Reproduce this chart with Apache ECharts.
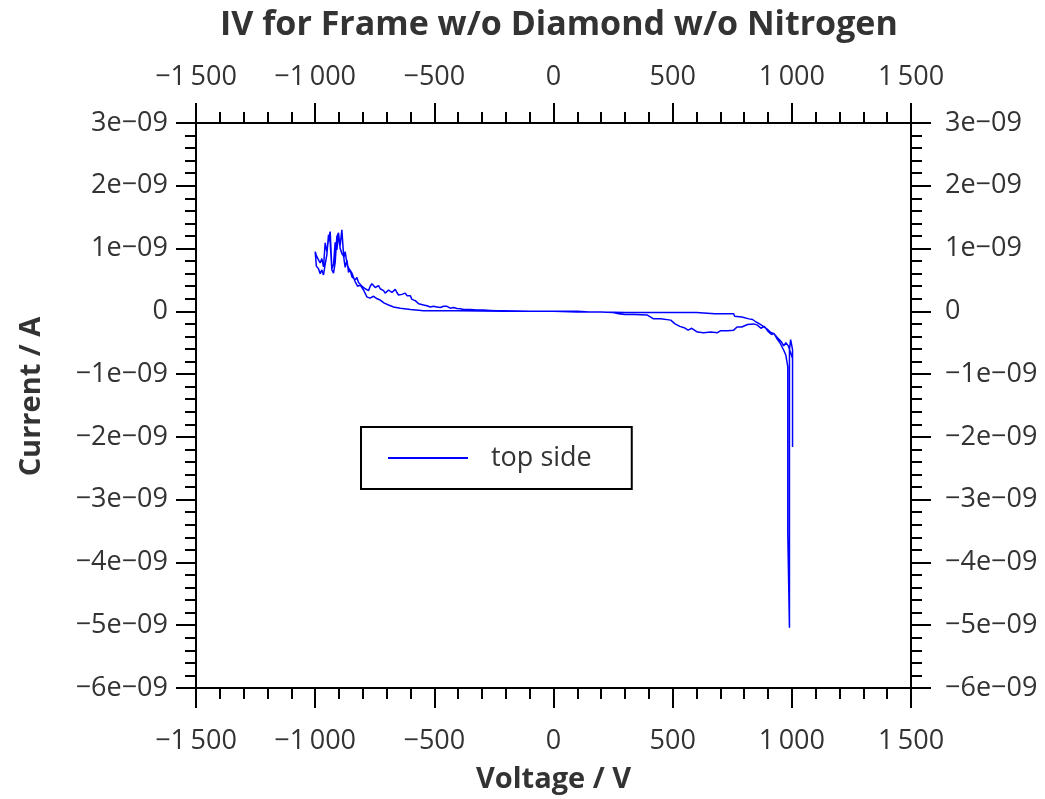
<!DOCTYPE html>
<html>
<head>
<meta charset="utf-8">
<script src="https://cdn.jsdelivr.net/npm/echarts@6/dist/echarts.min.js"></script>
<style>
  html, body { margin: 0; padding: 0; background: #fff; }
  #chart { width: 1045px; height: 799px; }
</style>
</head>
<body>
<div id="chart"></div>
<script>
  // sweep 0 -> +1000 V (dipping branch), current in nA
  const upPosV = [0, 50, 100, 150, 200, 250, 273, 300, 340, 394, 420, 450, 492, 510, 530, 548, 565, 580, 604, 630, 660, 688, 700, 730, 756, 770, 790, 814, 840, 856, 870, 885, 900, 915, 925, 940, 950, 966, 975, 983, 983, 990, 990]
  const upPosI = [0, 0, 0, -0.01, -0.01, -0.02, -0.04, -0.05, -0.05, -0.06, -0.12, -0.12, -0.14, -0.2, -0.24, -0.26, -0.3, -0.27, -0.33, -0.34, -0.33, -0.34, -0.31, -0.31, -0.3, -0.25, -0.25, -0.21, -0.2, -0.22, -0.27, -0.24, -0.32, -0.37, -0.35, -0.45, -0.5, -0.62, -0.7, -0.88, -3.53, -3.53, -5.04]

  // +1000 V -> 0 (return, near zero)
  const downPosV = [990, 995, 1003, 1003, 1003, 985, 975, 966, 955, 940, 926, 910, 895, 880, 865, 850, 835, 820, 814, 790, 760, 756, 700, 676, 672, 600, 500, 400, 300, 200, 100, 0]
  const downPosI = [-0.61, -0.45, -0.61, -2.16, -0.75, -0.55, -0.5, -0.55, -0.48, -0.42, -0.36, -0.33, -0.28, -0.24, -0.2, -0.17, -0.13, -0.12, -0.1, -0.09, -0.08, -0.04, -0.04, -0.04, -0.02, -0.02, -0.02, -0.02, -0.02, -0.01, -0.01, 0]

  // 0 -> -1000 V
  const upNegV = [0, -55, -100, -150, -210, -300, -400, -480, -545, -600, -643, -671, -692, -710, -727, -740, -755, -770, -783, -797, -811, -822, -832, -846, -860, -867, -874, -880, -888, -895, -902, -909, -916, -923, -930, -937, -944, -951, -958, -965, -972, -979, -986, -993, -1000]
  const upNegI = [0, 0, 0, 0, 0, 0.005, 0.01, 0.01, 0.01, 0.03, 0.05, 0.07, 0.1, 0.13, 0.18, 0.2, 0.24, 0.21, 0.23, 0.34, 0.42, 0.4, 0.47, 0.61, 0.69, 0.77, 0.95, 0.85, 1.3, 1.05, 1.2, 0.98, 1.1, 0.75, 0.68, 1.27, 1.15, 0.95, 1.09, 0.71, 0.84, 0.77, 0.82, 0.87, 0.95]

  // -1000 V -> 0 (noisy branch)
  const downNegV = [-1000, -995, -986, -979, -972, -965, -958, -951, -944, -937, -930, -923, -916, -909, -902, -895, -888, -881, -874, -867, -860, -853, -846, -839, -832, -825, -818, -811, -804, -797, -790, -783, -776, -769, -762, -755, -748, -741, -734, -727, -720, -713, -706, -699, -692, -685, -678, -671, -664, -657, -650, -643, -636, -629, -622, -615, -608, -601, -594, -587, -580, -573, -566, -559, -545, -531, -517, -503, -489, -475, -461, -447, -433, -419, -405, -391, -377, -349, -321, -293, -265, -237, -210, -150, -100, -50, 0]
  const downNegI = [0.95, 0.72, 0.68, 0.6, 0.66, 0.58, 0.75, 0.9, 1.22, 1.1, 0.66, 0.61, 0.78, 1.19, 1.25, 1.0, 0.92, 0.88, 0.7, 0.82, 0.62, 0.66, 0.55, 0.58, 0.5, 0.54, 0.46, 0.45, 0.4, 0.42, 0.36, 0.37, 0.33, 0.4, 0.44, 0.42, 0.38, 0.41, 0.41, 0.36, 0.39, 0.33, 0.29, 0.31, 0.34, 0.34, 0.3, 0.28, 0.35, 0.3, 0.26, 0.23, 0.27, 0.29, 0.29, 0.25, 0.23, 0.25, 0.19, 0.2, 0.17, 0.15, 0.12, 0.1, 0.1, 0.09, 0.07, 0.08, 0.07, 0.06, 0.08, 0.08, 0.05, 0.06, 0.045, 0.04, 0.03, 0.03, 0.02, 0.02, 0.015, 0.01, 0.01, 0.005, 0, 0, 0]

  const xTicks = { min: -1500, max: 1500, interval: 500 }
  const yTicks = { min: -6, max: 3, interval: 1 }

  const font = 'Open Sans'
  const pairs = (v, i) => v.map((x, k) => [x, i[k]])
  const data = [].concat(pairs(upPosV, upPosI), pairs(downPosV, downPosI), pairs(upNegV, upNegI), pairs(downNegV, downNegI))

  const fmtX = (v) => {
    const s = String(Math.abs(v)).replace(/\B(?=(\d{3})+(?!\d))/g, '\u2009')
    return (v < 0 ? '\u2212' : '') + s
  }
  const fmtY = (v) => (v === 0 ? '0' : (v < 0 ? '\u2212' : '') + Math.abs(v) + 'e\u221209')

  const black = { color: '#000', width: 2 }
  const axisBase = (fmt, margin) => ({
    type: 'value',
    axisLine: { show: true, onZero: false, lineStyle: black },
    axisTick: { show: true, inside: false, length: 20, lineStyle: black },
    minorTick: { show: true, splitNumber: 5, length: 11, lineStyle: black },
    splitLine: { show: false },
    axisLabel: { formatter: fmt, margin: margin, fontFamily: font, fontSize: 27, color: '#333' },
  })
  const nameStyle = { fontFamily: font, fontSize: 29, fontWeight: 'bold', color: '#333' }

  const chart = echarts.init(document.getElementById('chart'))
  chart.setOption({
    animation: false,
    backgroundColor: '#fff',
    title: {
      text: 'IV for Frame w/o Diamond w/o Nitrogen',
      left: 215,
      top: 3,
      textStyle: { fontFamily: font, fontSize: 34, fontWeight: 'bold', color: '#333' },
    },
    grid: { left: 196, right: 134, top: 123, bottom: 110, containLabel: false },
    legend: {
      left: 361,
      top: 427,
      orient: 'horizontal',
      borderColor: '#000',
      borderWidth: 2,
      padding: [16, 40, 16, 27],
      icon: 'rect',
      itemWidth: 80,
      itemHeight: 2,
      textStyle: { fontFamily: font, fontSize: 27, color: '#333', padding: [0, 0, 0, 18], lineHeight: 30 },
      data: ['top side'],
    },
    xAxis: [
      Object.assign(axisBase(fmtX, 40), xTicks, {
        position: 'bottom',
        name: 'Voltage / V',
        nameLocation: 'middle',
        nameGap: 77,
        nameTextStyle: nameStyle,
      }),
      Object.assign(axisBase(fmtX, 32), xTicks, { position: 'top' }),
    ],
    yAxis: [
      Object.assign(axisBase(fmtY, 28), yTicks, {
        position: 'left',
        name: 'Current / A',
        nameLocation: 'middle',
        nameGap: 150,
        nameTextStyle: Object.assign({ padding: [0, 0, 0, 18] }, nameStyle),
      }),
      Object.assign(axisBase(fmtY, 34), yTicks, { position: 'right' }),
    ],
    series: [
      {
        name: 'top side',
        type: 'line',
        xAxisIndex: 0,
        yAxisIndex: 0,
        symbol: 'none',
        showSymbol: false,
        lineStyle: { color: '#0000ff', width: 1.5 },
        itemStyle: { color: '#0000ff' },
        data: data,
      },
    ],
  })
</script>
</body>
</html>
